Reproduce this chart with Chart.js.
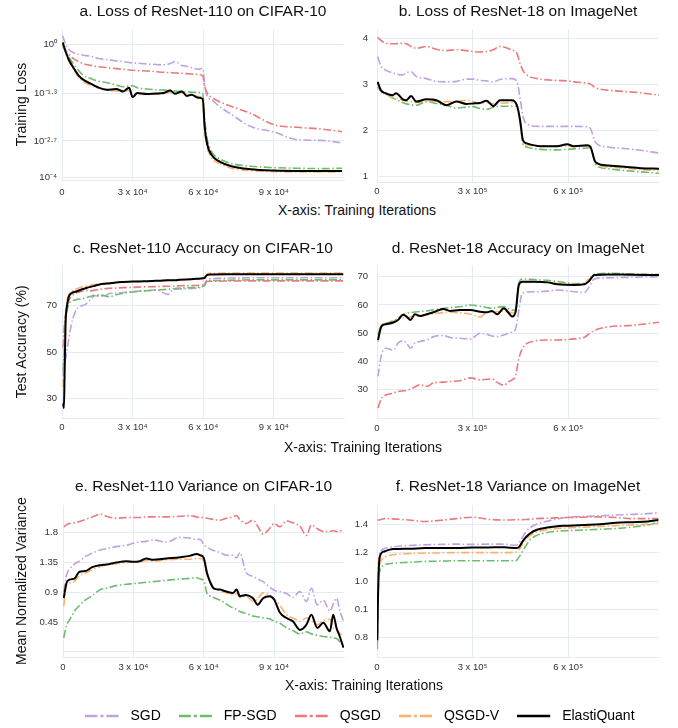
<!DOCTYPE html>
<html>
<head>
<meta charset="utf-8">
<script src="https://cdn.jsdelivr.net/npm/chart.js@4.4.1/dist/chart.umd.min.js"></script>
<style>
  body { margin: 0; background: #fff; width: 678px; height: 728px; position: relative; overflow: hidden;
         font-family: 'Liberation Sans', Arial, sans-serif; }
  canvas { position: absolute; }
  .xlab { position: absolute; font-size: 14px; color: #111; white-space: nowrap; transform: translate(-50%, -50%); }
</style>
</head>
<body>
<canvas id="ca" width="350" height="200" style="left:0;top:0"></canvas>
<canvas id="cb" width="338" height="200" style="left:340px;top:0"></canvas>
<div class="xlab" style="left:357px;top:210px">X-axis: Training Iterations</div>
<canvas id="cc" width="350" height="215" style="left:0;top:225px"></canvas>
<canvas id="cd" width="338" height="215" style="left:340px;top:225px"></canvas>
<div class="xlab" style="left:363px;top:447px">X-axis: Training Iterations</div>
<canvas id="ce" width="350" height="225" style="left:0;top:455px"></canvas>
<canvas id="cf" width="338" height="225" style="left:340px;top:455px"></canvas>
<div class="xlab" style="left:364px;top:685px">X-axis: Training Iterations</div>
<canvas id="cl" width="678" height="80" style="left:21px;top:691px"></canvas>
<script>
// series (same order everywhere)
const seriesNames = ['SGD', 'FP-SGD', 'QSGD', 'QSGD-V', 'ElastiQuant'];
const seriesColors = ['#bfa3e0', '#6dbd6d', '#ea7b7b', '#fdb16b', '#000000'];

// x ticks (iterations in thousands)
const cifarTicks = [0, 30, 60, 90];
const cifarTickLabels = ['0', '3 x 10⁴', '6 x 10⁴', '9 x 10⁴'];
const imagenetTicks = [0, 300, 600];
const imagenetTickLabels = ['0', '3 x 10⁵', '6 x 10⁵'];

// a. loss ResNet-110 / CIFAR-10 (log10 of loss, as drawn)
const itersA = [0.3, 1.5, 3, 5, 7, 9, 12, 15, 19, 23, 26, 28.5, 30, 32, 36, 40, 43, 46, 48, 51, 53, 55, 58, 59.8, 60.6, 61.6, 63.5, 67, 72, 80, 90, 100, 110, 119];
const lossA_sgd = [0.25, 0.0, -0.17, -0.26, -0.30, -0.33, -0.36, -0.42, -0.46, -0.50, -0.52, -0.55, -0.56, -0.57, -0.59, -0.61, -0.62, -0.58, -0.52, -0.64, -0.66, -0.70, -0.75, -0.72, -1.20, -1.55, -1.66, -1.86, -2.10, -2.45, -2.62, -2.85, -2.87, -2.94];
const lossA_fp = [0.0, -0.2, -0.40, -0.60, -0.78, -0.93, -1.02, -1.10, -1.15, -1.22, -1.27, -1.25, -1.24, -1.30, -1.34, -1.36, -1.37, -1.38, -1.40, -1.41, -1.42, -1.43, -1.44, -1.47, -2.2, -2.80, -3.20, -3.42, -3.56, -3.64, -3.68, -3.70, -3.71, -3.70];
const lossA_qsgd = [-0.05, -0.18, -0.32, -0.44, -0.52, -0.58, -0.63, -0.67, -0.70, -0.73, -0.75, -0.77, -0.78, -0.79, -0.80, -0.82, -0.84, -0.85, -0.86, -0.87, -0.88, -0.89, -0.91, -0.95, -1.25, -1.45, -1.58, -1.72, -1.86, -2.06, -2.40, -2.48, -2.53, -2.61];
const lossA_qsgdv = [0.0, -0.25, -0.52, -0.76, -0.98, -1.12, -1.22, -1.30, -1.37, -1.40, -1.42, -1.38, -1.50, -1.48, -1.50, -1.49, -1.48, -1.44, -1.46, -1.45, -1.50, -1.52, -1.56, -1.62, -2.55, -3.05, -3.38, -3.56, -3.70, -3.77, -3.80, -3.81, -3.81, -3.81];
const lossA_elasti = [0.05, -0.22, -0.48, -0.72, -0.93, -1.06, -1.17, -1.28, -1.36, -1.34, -1.41, -1.30, -1.58, -1.46, -1.49, -1.47, -1.46, -1.38, -1.48, -1.41, -1.55, -1.51, -1.60, -1.64, -2.46, -2.96, -3.30, -3.50, -3.64, -3.73, -3.77, -3.78, -3.78, -3.78];
const lossTicksA = [0, -1.463, -2.886, -3.98];
const lossTickLabelsA = ['10⁰', '10⁻¹·³', '10⁻²·⁷', '10⁻⁴'];

// b. loss ResNet-18 / ImageNet
const itersB = [2, 12, 28, 49, 60, 81, 92, 107, 123, 155, 186, 218, 249, 281, 302, 323, 344, 365, 386, 423, 439, 449, 458, 470, 513, 565, 597, 618, 660, 670, 686, 723, 776, 828, 885];
const lossB_sgd = [3.60, 3.40, 3.30, 3.25, 3.22, 3.20, 3.25, 3.27, 3.17, 3.12, 3.06, 3.05, 3.06, 3.11, 3.11, 3.08, 3.07, 3.05, 3.10, 3.12, 3.06, 2.70, 2.30, 2.13, 2.08, 2.08, 2.08, 2.08, 2.07, 2.03, 1.73, 1.63, 1.60, 1.56, 1.50];
const lossB_fp = [2.94, 2.85, 2.78, 2.70, 2.66, 2.60, 2.57, 2.55, 2.54, 2.62, 2.58, 2.54, 2.48, 2.50, 2.51, 2.47, 2.45, 2.50, 2.52, 2.52, 2.52, 2.20, 1.70, 1.63, 1.58, 1.57, 1.58, 1.59, 1.61, 1.62, 1.25, 1.16, 1.12, 1.09, 1.06];
const lossB_qsgd = [4.02, 3.95, 3.89, 3.88, 3.88, 3.89, 3.88, 3.82, 3.78, 3.82, 3.76, 3.73, 3.75, 3.73, 3.71, 3.70, 3.71, 3.75, 3.82, 3.74, 3.67, 3.45, 3.30, 3.20, 3.11, 3.08, 3.07, 3.05, 3.02, 3.00, 2.92, 2.87, 2.84, 2.81, 2.76];
const lossB_qsgdv = [3.0, 2.85, 2.78, 2.72, 2.70, 2.65, 2.63, 2.62, 2.60, 2.62, 2.63, 2.62, 2.62, 2.65, 2.62, 2.58, 2.60, 2.57, 2.58, 2.60, 2.55, 2.15, 1.75, 1.68, 1.66, 1.66, 1.65, 1.64, 1.65, 1.62, 1.28, 1.20, 1.17, 1.14, 1.12];
const lossB_elasti = [3.05, 2.87, 2.80, 2.76, 2.80, 2.67, 2.65, 2.74, 2.62, 2.67, 2.65, 2.54, 2.62, 2.57, 2.58, 2.59, 2.64, 2.52, 2.65, 2.65, 2.54, 2.22, 1.78, 1.71, 1.65, 1.65, 1.69, 1.65, 1.67, 1.63, 1.30, 1.23, 1.20, 1.17, 1.16];
const lossTicksB = [1, 2, 3, 4];
const lossTickLabelsB = ['1', '2', '3', '4'];

// c. accuracy ResNet-110 / CIFAR-10
const itersC = [0.5, 0.8, 1.1, 1.5, 2, 2.8, 4, 6, 8, 10, 12, 14, 16, 18, 20, 23, 26, 30, 35, 40, 45, 47, 48, 50, 55, 59, 60.5, 61.5, 63, 70, 80, 90, 100, 110, 119.5];
const accC_sgd = [40, 43, 45, 47, 50, 55, 62, 68, 69.8, 70.5, 72.4, 74.2, 74, 73.9, 75.2, 75.4, 75.6, 76, 76.3, 76.7, 74.8, 76.8, 77.0, 77.1, 77.3, 77.8, 79, 81, 81.5, 81.8, 81.9, 81.9, 81.9, 81.9, 81.9];
const accC_fp = [42, 48, 56, 63, 67, 70.5, 71.8, 72.5, 72.9, 73.3, 73.9, 74.4, 74.6, 74.2, 73.8, 74.6, 75.3, 75.8, 76.3, 76.6, 77, 77.2, 77.3, 77.5, 77.7, 78, 78.5, 80.5, 80.7, 80.8, 81, 81, 81, 81, 81];
const accC_qsgd = [52, 58, 63, 66, 69, 72, 74, 75.3, 76, 76.5, 76.3, 76.6, 77, 77.2, 77.4, 77.5, 77.7, 77.8, 78, 78.1, 78.3, 78.3, 78.4, 78.5, 78.6, 78.8, 79.2, 80.3, 80.4, 80.5, 80.6, 80.6, 80.6, 80.6, 80.6];
const accC_qsgdv = [35, 45, 55, 65, 71, 74.5, 76, 77, 77.8, 78.3, 78.7, 79, 79.3, 79.5, 79.7, 79.9, 80.1, 80.3, 80.5, 80.7, 80.9, 81, 81, 81.2, 81.4, 81.7, 82.2, 83.5, 83.8, 83.9, 83.9, 83.9, 83.9, 83.9, 83.9];
const accC_elasti = [28, 26, 40, 62, 69, 73.5, 75.3, 76, 76.8, 77.4, 78, 78.5, 79, 79.3, 79.5, 79.9, 80.1, 80.3, 80.4, 80.6, 80.8, 80.9, 80.9, 81.1, 81.3, 81.6, 81.8, 83, 83.3, 83.4, 83.4, 83.4, 83.4, 83.4, 83.4];
const accTicksC = [30, 50, 70];
const accTickLabelsC = ['30', '50', '70'];

// d. accuracy ResNet-18 / ImageNet
const itersD = [3, 14, 29, 51, 66, 82, 93, 105, 119, 135, 156, 177, 208, 229, 261, 293, 324, 345, 361, 377, 398, 414, 424, 435, 445, 456, 493, 535, 566, 619, 651, 666, 682, 724, 800, 885];
const accD_sgd = [34.7, 42.4, 44.7, 44, 46.5, 47.3, 46.5, 44.7, 46.5, 47.1, 47.6, 48.8, 49.2, 48.5, 48.2, 48, 50, 49.6, 49, 48.8, 49.4, 50, 50.4, 51.5, 58, 64.2, 64.7, 64.9, 65.3, 64.7, 64.4, 66.5, 69.2, 69.6, 69.8, 70];
const accD_fp = [49.4, 52.8, 53.5, 54.5, 55.3, 56.6, 57.1, 57.3, 57.5, 57.7, 57.9, 58.3, 58.8, 59.1, 59.4, 60, 59.5, 59.1, 58.8, 59.2, 59.4, 58.6, 58.2, 58.2, 67.5, 69.2, 69.0, 68.7, 68.3, 67.6, 67.6, 69, 70.8, 71.2, 71, 70.8];
const accD_qsgd = [23.5, 27, 28.2, 28.8, 29.4, 29.6, 29.8, 30.2, 31, 31.8, 31.2, 32.4, 32.7, 32.9, 33.2, 34.2, 33.5, 33.7, 33.8, 32.6, 31.6, 32.9, 33.5, 35, 41, 44.5, 47.2, 47.6, 47.6, 48, 48.6, 49.8, 51, 52.2, 52.8, 53.9];
const accD_qsgdv = [47, 52.8, 53.5, 54.2, 54.8, 55.5, 55.3, 55.8, 56, 56.2, 56.5, 56.9, 57.3, 57.5, 57.2, 56.8, 55.8, 57.4, 57.5, 57.6, 57.8, 57.5, 57.3, 57.7, 66.5, 67.8, 68.1, 68, 67.6, 67.3, 67.6, 69.5, 70.6, 70.7, 70.6, 70.5];
const accD_elasti = [47.6, 52.4, 53.2, 53.8, 54.7, 56.5, 55.9, 54.7, 56.7, 56.1, 56.7, 57.4, 58.6, 57.9, 58.2, 58.2, 57.6, 57.4, 57.9, 56.7, 58.8, 57.1, 55.9, 57.6, 67.1, 68.2, 68.2, 68.0, 67.3, 67.1, 67.3, 68.5, 70.6, 70.8, 70.7, 70.6];
const accTicksD = [30, 40, 50, 60, 70];
const accTickLabelsD = ['30', '40', '50', '60', '70'];

// e. variance ResNet-110 / CIFAR-10
const itersE = [0.3, 1.5, 2.8, 5, 7, 9.5, 12.5, 16, 18.5, 22.7, 27, 30, 32.7, 35.5, 38.5, 44, 50, 54, 57, 58.5, 60, 61.4, 62.9, 64.2, 67, 69.7, 72.5, 74, 75.4, 78, 81, 83, 85.3, 88, 90, 92.5, 95.3, 98, 101, 103.8, 105.9, 108.4, 111, 113.8, 115.2, 116.6, 118, 119.6];
const varE_sgd = [0.91, 1.16, 1.25, 1.33, 1.37, 1.44, 1.49, 1.54, 1.56, 1.59, 1.61, 1.64, 1.66, 1.67, 1.69, 1.66, 1.73, 1.72, 1.70, 1.70, 1.62, 1.58, 1.55, 1.53, 1.50, 1.46, 1.46, 1.42, 1.50, 1.20, 1.14, 1.10, 1.06, 0.98, 0.93, 0.91, 0.88, 0.82, 0.91, 0.76, 0.96, 0.71, 0.78, 0.61, 0.72, 0.81, 0.62, 0.46];
const varE_fp = [0.21, 0.40, 0.48, 0.62, 0.70, 0.78, 0.85, 0.94, 0.96, 1.00, 1.02, 1.03, 1.04, 1.05, 1.06, 1.08, 1.10, 1.11, 1.12, 1.10, 1.08, 0.88, 0.84, 0.82, 0.78, 0.72, 0.66, 0.64, 0.61, 0.58, 0.54, 0.53, 0.51, 0.50, 0.46, 0.43, 0.36, 0.32, 0.27, 0.30, 0.27, 0.25, 0.23, 0.22, 0.21, 0.20, 0.15, 0.08];
const varE_qsgd = [1.89, 1.92, 1.94, 1.95, 1.97, 2.0, 2.04, 2.08, 2.05, 2.02, 2.03, 2.03, 2.03, 2.04, 2.04, 2.04, 2.05, 2.06, 2.04, 2.03, 2.03, 2.02, 2.01, 2.0, 1.99, 2.02, 2.04, 2.06, 2.0, 1.94, 1.99, 1.90, 1.78, 1.86, 1.94, 1.89, 1.98, 1.95, 1.90, 1.76, 1.92, 1.86, 1.82, 1.82, 1.83, 1.82, 1.83, 1.83];
const varE_qsgdv = [0.69, 1.01, 1.04, 1.07, 1.15, 1.19, 1.24, 1.29, 1.31, 1.33, 1.35, 1.36, 1.36, 1.38, 1.37, 1.39, 1.40, 1.40, 1.41, 1.41, 1.37, 1.15, 1.06, 0.97, 0.92, 0.89, 0.86, 0.88, 0.82, 0.84, 0.76, 0.80, 0.89, 0.86, 0.80, 0.70, 0.56, 0.51, 0.46, 0.51, 0.47, 0.41, 0.47, 0.49, 0.36, 0.33, 0.28, 0.23];
const varE_elasti = [0.81, 1.04, 1.09, 1.11, 1.21, 1.22, 1.28, 1.31, 1.32, 1.35, 1.37, 1.36, 1.37, 1.41, 1.39, 1.41, 1.43, 1.45, 1.48, 1.46, 1.42, 1.19, 1.04, 0.96, 0.94, 0.91, 0.89, 0.94, 0.84, 0.86, 0.81, 0.71, 0.81, 0.84, 0.79, 0.59, 0.51, 0.46, 0.33, 0.41, 0.56, 0.36, 0.44, 0.31, 0.56, 0.36, 0.23, 0.06];
const varTicksE = [0, 0.45, 0.9, 1.35, 1.8];
const varTickLabelsE = ['', '0.45', '0.9', '1.35', '1.8'];

// f. variance ResNet-18 / ImageNet (axis units as drawn)
const itersF = [1, 2, 3.5, 5, 7, 10, 15, 25, 50, 100, 150, 200, 250, 300, 350, 400, 436, 446, 457, 468, 480, 500, 530, 560, 600, 650, 700, 750, 800, 850, 883];
const varF_sgd = [0.60, 0.80, 0.97, 1.10, 1.17, 1.20, 1.22, 1.23, 1.24, 1.25, 1.255, 1.258, 1.26, 1.258, 1.26, 1.26, 1.252, 1.27, 1.31, 1.35, 1.375, 1.40, 1.42, 1.435, 1.45, 1.455, 1.46, 1.465, 1.47, 1.475, 1.48];
const varF_fp = [0.52, 0.70, 0.88, 0.98, 1.05, 1.08, 1.10, 1.115, 1.125, 1.132, 1.138, 1.14, 1.143, 1.143, 1.143, 1.143, 1.143, 1.17, 1.21, 1.25, 1.29, 1.32, 1.34, 1.35, 1.355, 1.36, 1.365, 1.37, 1.38, 1.395, 1.415];
const varF_qsgd = [1.43, 1.43, 1.43, 1.43, 1.43, 1.432, 1.435, 1.44, 1.438, 1.43, 1.42, 1.428, 1.44, 1.45, 1.435, 1.43, 1.432, 1.433, 1.433, 1.434, 1.435, 1.44, 1.442, 1.445, 1.448, 1.45, 1.452, 1.448, 1.44, 1.44, 1.44];
const varF_qsgdv = [0.60, 0.78, 0.95, 1.05, 1.10, 1.13, 1.15, 1.17, 1.185, 1.193, 1.196, 1.198, 1.20, 1.20, 1.20, 1.20, 1.205, 1.22, 1.26, 1.29, 1.32, 1.345, 1.36, 1.37, 1.375, 1.38, 1.385, 1.39, 1.395, 1.40, 1.405];
const varF_elasti = [0.58, 0.75, 0.92, 1.05, 1.14, 1.18, 1.20, 1.21, 1.225, 1.228, 1.232, 1.233, 1.232, 1.236, 1.237, 1.238, 1.232, 1.24, 1.28, 1.31, 1.335, 1.36, 1.375, 1.385, 1.39, 1.395, 1.40, 1.41, 1.415, 1.42, 1.43];
const varTicksF = [0.6, 0.8, 1.0, 1.2, 1.4];
const varTickLabelsF = ['0.8', '0.1', '1.0', '1.2', '1.4'];

Chart.defaults.font.family = "'Liberation Sans', Arial, sans-serif";
Chart.defaults.color = '#333';
const gridColor = '#e4ebf4';
const dashDot = [8, 2.5, 1.5, 2.5];

function makeDatasets(xs, ys) {
  return seriesNames.map((name, i) => {
    const solid = name === 'ElastiQuant';
    return {
      label: name,
      data: xs.map((x, j) => ({ x: x, y: ys[i][j] })),
      borderColor: seriesColors[i],
      borderWidth: solid ? 2 : 1.6,
      borderDash: solid ? [] : dashDot,
      pointRadius: 0,
      cubicInterpolationMode: 'monotone',
      order: seriesNames.length - 1 - i
    };
  });
}

function makeChart(id, o) {
  return new Chart(document.getElementById(id), {
    type: 'line',
    data: { datasets: makeDatasets(o.xs, o.ys) },
    options: {
      responsive: false,
      animation: false,
      events: [],
      layout: { padding: { left: 0, right: o.padRight, top: 0, bottom: 0 } },
      plugins: {
        legend: { display: false },
        tooltip: { enabled: false },
        title: {
          display: true, text: o.title, fullSize: false, color: '#111',
          font: { size: 15.5, weight: 'normal' },
          padding: { top: o.titleTop, bottom: o.titleBottom }
        }
      },
      scales: {
        x: {
          type: 'linear', min: 0, max: o.xMax,
          afterBuildTicks: s => { s.ticks = o.xTicks.map(v => ({ value: v })); },
          afterFit: s => { s.height = o.xHeight; },
          ticks: { callback: (v, i) => o.xLabels[i], padding: o.xPad, font: { size: 9.5 }, color: '#333', maxRotation: 0, autoSkip: false },
          grid: { color: gridColor, drawTicks: false },
          border: { color: gridColor }
        },
        y: {
          type: 'linear', min: o.yMin, max: o.yMax,
          afterBuildTicks: s => { s.ticks = o.yTicks.map(v => ({ value: v })); },
          afterFit: s => { s.width = o.yWidth; },
          ticks: { callback: (v, i) => o.yLabels[i], padding: o.yPad, font: { size: 9.5 }, color: '#333', autoSkip: false },
          grid: { color: gridColor, drawTicks: false },
          border: { color: gridColor },
          title: o.yTitle
            ? { display: true, text: o.yTitle, color: '#111', font: { size: 14 }, padding: { top: 13.6, bottom: 0 } }
            : { display: false }
        }
      }
    }
  });
}

const cifarX = { xMax: 119.8, xTicks: cifarTicks, xLabels: cifarTickLabels, yWidth: 62, padRight: 6, yPad: 5 };
const imagenetX = { xMax: 885, xTicks: imagenetTicks, xLabels: imagenetTickLabels, yWidth: 37, padRight: 19, yPad: 9, yTitle: null };

makeChart('ca', Object.assign({}, cifarX, {
  title: 'a. Loss of ResNet-110 on CIFAR-10', titleTop: 2.4, titleBottom: 8,
  xs: itersA, ys: [lossA_sgd, lossA_fp, lossA_qsgd, lossA_qsgdv, lossA_elasti],
  yMin: -4.05, yMax: 0.45, yTicks: lossTicksA, yLabels: lossTickLabelsA,
  yTitle: 'Training Loss', xHeight: 20, xPad: 6.5
}));
makeChart('cb', Object.assign({}, imagenetX, {
  title: 'b. Loss of ResNet-18 on ImageNet', titleTop: 2.4, titleBottom: 8,
  xs: itersB, ys: [lossB_sgd, lossB_fp, lossB_qsgd, lossB_qsgdv, lossB_elasti],
  yMin: 0.87, yMax: 4.2, yTicks: lossTicksB, yLabels: lossTickLabelsB,
  xHeight: 18, xPad: 3.6
}));
makeChart('cc', Object.assign({}, cifarX, {
  title: 'c. ResNet-110 Accuracy on CIFAR-10', titleTop: 14, titleBottom: 8.1,
  xs: itersC, ys: [accC_sgd, accC_fp, accC_qsgd, accC_qsgdv, accC_elasti],
  yMin: 21.7, yMax: 87.1, yTicks: accTicksC, yLabels: accTickLabelsC,
  yTitle: 'Test Accuracy (%)', xHeight: 22, xPad: 3.6
}));
makeChart('cd', Object.assign({}, imagenetX, {
  title: 'd. ResNet-18 Accuracy on ImageNet', titleTop: 14, titleBottom: 8.1,
  xs: itersD, ys: [accD_sgd, accD_fp, accD_qsgd, accD_qsgdv, accD_elasti],
  yMin: 20, yMax: 73.9, yTicks: accTicksD, yLabels: accTickLabelsD,
  xHeight: 22, xPad: 4.3
}));
makeChart('ce', Object.assign({}, cifarX, {
  title: 'e. ResNet-110 Variance on CIFAR-10', titleTop: 22.4, titleBottom: 9,
  xs: itersE, ys: [varE_sgd, varE_fp, varE_qsgd, varE_qsgdv, varE_elasti],
  yMin: -0.08, yMax: 2.22, yTicks: varTicksE, yLabels: varTickLabelsE,
  yTitle: 'Mean Normalized Variance', xHeight: 23, xPad: 4.6, yWidth: 63
}));
makeChart('cf', Object.assign({}, imagenetX, {
  title: 'f. ResNet-18 Variance on ImageNet', titleTop: 22.4, titleBottom: 9,
  xs: itersF, ys: [varF_sgd, varF_fp, varF_qsgd, varF_qsgdv, varF_elasti],
  yMin: 0.464, yMax: 1.536, yTicks: varTicksF, yLabels: varTickLabelsF,
  xHeight: 23, xPad: 4.3
}));

// legend swatch: 33px dash-dot (or solid) line, a little blank space after it
function legendSwatch(color, dash) {
  const c = document.createElement('canvas');
  c.width = 38; c.height = 6;
  const g = c.getContext('2d');
  g.strokeStyle = color;
  g.lineWidth = 2.7;
  g.setLineDash(dash);
  g.beginPath(); g.moveTo(0, 3); g.lineTo(33, 3); g.stroke();
  return c;
}

// shared legend for all six panels
new Chart(document.getElementById('cl'), {
  type: 'line',
  data: {
    datasets: seriesNames.map((name, i) => ({
      label: name, data: [], borderColor: seriesColors[i],
      borderDash: name === 'ElastiQuant' ? [] : [12, 3, 3, 3]
    }))
  },
  options: {
    responsive: false,
    animation: false,
    events: [],
    scales: { x: { display: false }, y: { display: false } },
    plugins: {
      tooltip: { enabled: false },
      legend: {
        display: true, position: 'top',
        labels: {
          usePointStyle: true, pointStyleWidth: 38, boxHeight: 10, padding: 18, color: '#111',
          font: { size: 14 },
          generateLabels: chart => chart.data.datasets.map((ds, i) => ({
            text: ds.label, strokeStyle: ds.borderColor, fillStyle: ds.borderColor,
            lineWidth: 2.7, pointStyle: legendSwatch(ds.borderColor, ds.borderDash),
            datasetIndex: i, hidden: false
          }))
        }
      }
    }
  }
});
</script>
</body>
</html>
